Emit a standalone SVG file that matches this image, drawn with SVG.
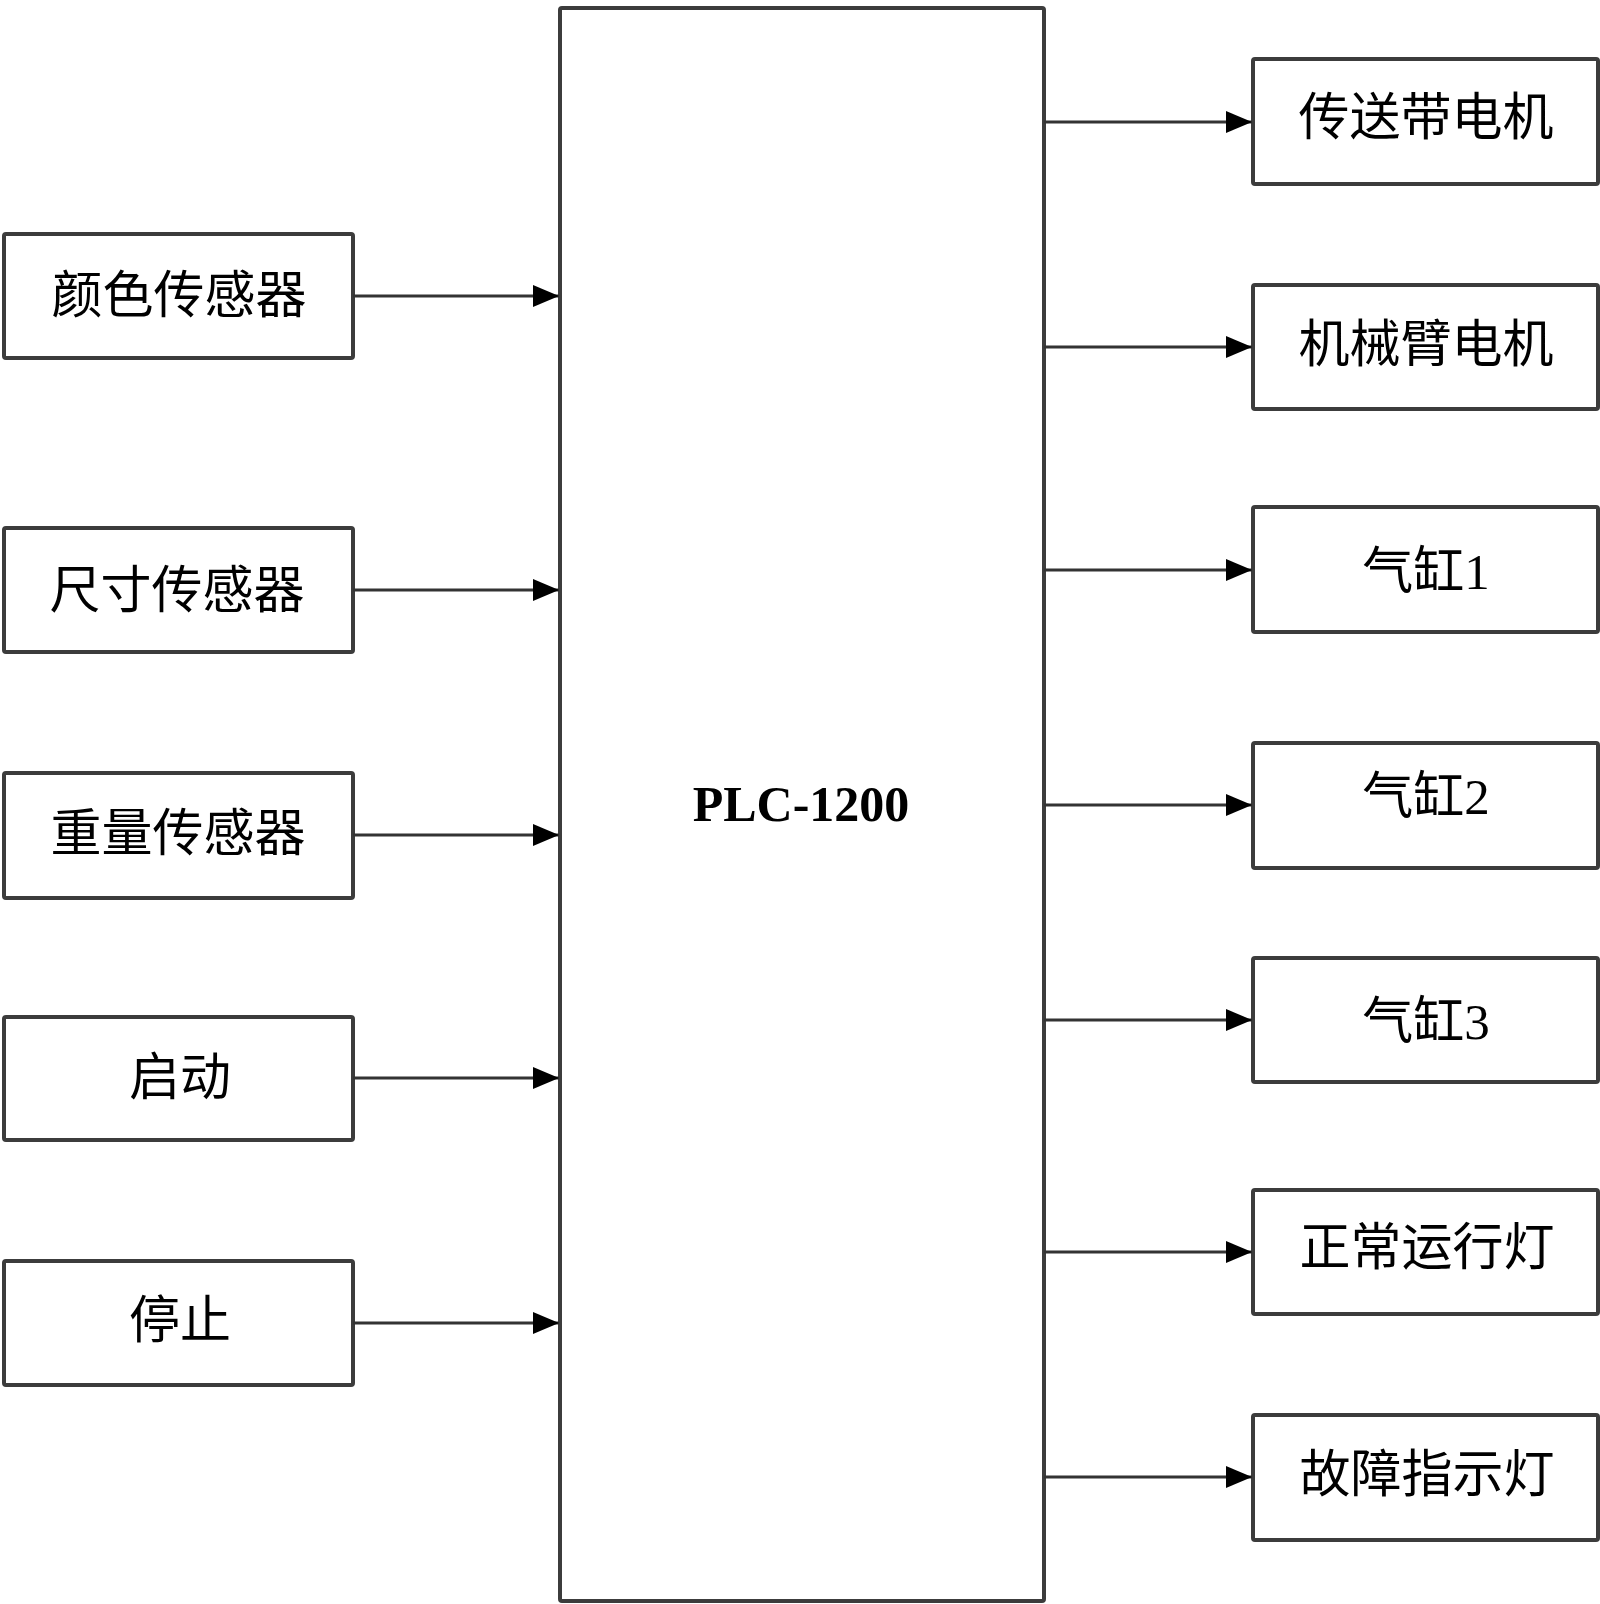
<svg xmlns="http://www.w3.org/2000/svg" width="1600" height="1604" viewBox="0 0 1600 1604">
<style>
.box{fill:#ffffff;stroke:#3c3c3c;stroke-width:4}
.lbl{font-family:"Liberation Serif","Noto Sans CJK SC",serif;font-size:51px;fill:#000;text-anchor:middle}
.plc{font-family:"Liberation Serif","Noto Sans CJK SC",serif;font-size:50px;font-weight:bold;fill:#000;text-anchor:middle}
.conn{stroke:#333;stroke-width:3;fill:none;marker-end:url(#arr)}
</style>
<defs>
<marker id="arr" markerUnits="userSpaceOnUse" viewBox="0 0 26 22" markerWidth="26" markerHeight="22" refX="26" refY="11" orient="auto">
<path d="M0,0 L26,11 L0,22 z" fill="#000"/>
</marker>
</defs>
<rect width="1600" height="1604" fill="#ffffff"/>
<g id="plc">
<rect class="box" x="560" y="8" width="484" height="1593" rx="2"/>
<text class="plc" x="801" y="821">PLC-1200</text>
</g>
<g id="in1"><rect class="box" x="4" y="234" width="349" height="124" rx="2"/><text class="lbl" x="179" y="313">颜色传感器</text></g>
<g id="in2"><rect class="box" x="4" y="528" width="349" height="124" rx="2"/><text class="lbl" x="177" y="608">尺寸传感器</text></g>
<g id="in3"><rect class="box" x="4" y="773" width="349" height="125" rx="2"/><text class="lbl" x="178" y="851">重量传感器</text></g>
<g id="in4"><rect class="box" x="4" y="1017" width="349" height="123" rx="2"/><text class="lbl" x="180" y="1095">启动</text></g>
<g id="in5"><rect class="box" x="4" y="1261" width="349" height="124" rx="2"/><text class="lbl" x="180" y="1338">停止</text></g>
<g id="out1"><rect class="box" x="1253" y="59" width="345" height="125" rx="2"/><text class="lbl" x="1426" y="135">传送带电机</text></g>
<g id="out2"><rect class="box" x="1253" y="285" width="345" height="124" rx="2"/><text class="lbl" x="1426" y="362">机械臂电机</text></g>
<g id="out3"><rect class="box" x="1253" y="507" width="345" height="125" rx="2"/><text class="lbl" x="1426" y="589">气缸1</text></g>
<g id="out4"><rect class="box" x="1253" y="743" width="345" height="125" rx="2"/><text class="lbl" x="1426" y="814">气缸2</text></g>
<g id="out5"><rect class="box" x="1253" y="958" width="345" height="124" rx="2"/><text class="lbl" x="1426" y="1039">气缸3</text></g>
<g id="out6"><rect class="box" x="1253" y="1190" width="345" height="124" rx="2"/><text class="lbl" x="1427" y="1265">正常运行灯</text></g>
<g id="out7"><rect class="box" x="1253" y="1415" width="345" height="125" rx="2"/><text class="lbl" x="1427" y="1492">故障指示灯</text></g>
<g id="connectors">
<line class="conn" x1="353" y1="296" x2="559" y2="296"/>
<line class="conn" x1="353" y1="590" x2="559" y2="590"/>
<line class="conn" x1="353" y1="835" x2="559" y2="835"/>
<line class="conn" x1="353" y1="1078" x2="559" y2="1078"/>
<line class="conn" x1="353" y1="1323" x2="559" y2="1323"/>
<line class="conn" x1="1044" y1="122" x2="1252" y2="122"/>
<line class="conn" x1="1044" y1="347" x2="1252" y2="347"/>
<line class="conn" x1="1044" y1="570" x2="1252" y2="570"/>
<line class="conn" x1="1044" y1="805" x2="1252" y2="805"/>
<line class="conn" x1="1044" y1="1020" x2="1252" y2="1020"/>
<line class="conn" x1="1044" y1="1252" x2="1252" y2="1252"/>
<line class="conn" x1="1044" y1="1477" x2="1252" y2="1477"/>
</g>
</svg>
